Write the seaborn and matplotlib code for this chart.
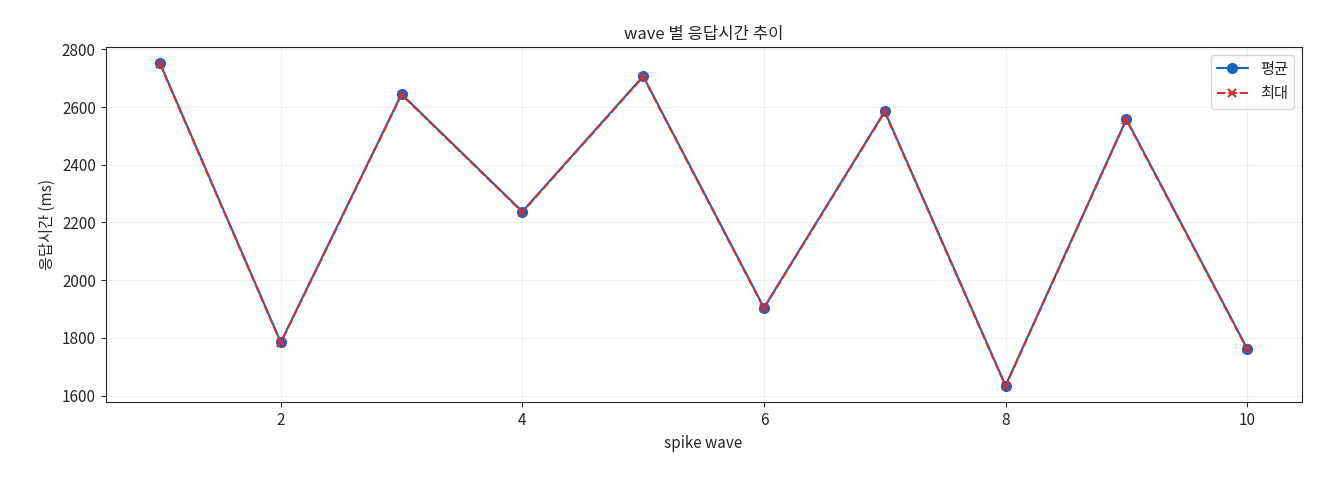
import matplotlib
matplotlib.use("Agg")
import matplotlib.pyplot as plt
import seaborn as sns
import pandas as pd

waves = [1, 2, 3, 4, 5, 6, 7, 8, 9, 10]
mean_ms = [2752, 1785, 2645, 2238, 2707, 1905, 2585, 1635, 2558, 1763]
max_ms = [2750, 1783, 2643, 2236, 2705, 1903, 2583, 1633, 2556, 1761]

sns.set_style("ticks")
plt.rcParams['font.family'] = ['Noto Sans CJK KR', 'DejaVu Sans']
plt.rcParams['font.size'] = 11
plt.rcParams['axes.unicode_minus'] = False

df = pd.DataFrame({"wave": waves, "mean": mean_ms, "max": max_ms})
fig, ax = plt.subplots(figsize=(13.2, 4.8), dpi=100)
sns.lineplot(data=df, x="wave", y="mean", ax=ax, color="#1565C0", marker="o",
             markersize=7, markeredgecolor="#1565C0", markeredgewidth=1,
             linewidth=1.5, label="평균")
sns.lineplot(data=df, x="wave", y="max", ax=ax, color="#D32F2F", marker="x",
             markersize=6, markeredgecolor="#D32F2F", markeredgewidth=1.5,
             linewidth=1.5, dashes=(4, 1.5), label="최대")
ax.grid(True, alpha=0.3)
ax.set_title("wave 별 응답시간 추이", fontsize=12)
ax.set_xlabel("spike wave")
ax.set_ylabel("응답시간 (ms)")
ax.legend(loc="upper right")
fig.subplots_adjust(left=0.08, right=0.986, top=0.902, bottom=0.162)
fig.savefig("out.png")
